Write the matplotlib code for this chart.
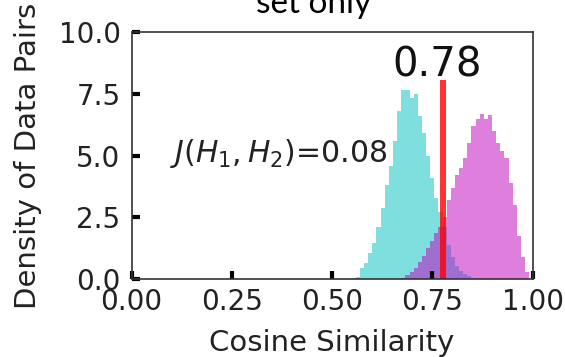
import numpy as np
import matplotlib
matplotlib.use('Agg')
import matplotlib.pyplot as plt

# histogram bins (shared by both series)
bin_start = 0.549
bin_width = 0.0103
n_bins = 43

# density per bin
cyan_heights = [0.05, 0.1, 0.45, 0.66, 1.05, 1.45, 2.1, 2.9, 3.8, 4.6,
                5.6, 6.8, 7.65, 7.65, 7.35, 7.5, 6.6, 5.9, 5.0, 4.1,
                3.3, 2.7, 2.1, 1.4, 0.9, 0.55, 0.35, 0.22, 0.12, 0.05,
                0, 0, 0, 0, 0, 0, 0, 0, 0, 0, 0, 0, 0]
magenta_heights = [0, 0, 0, 0, 0, 0, 0, 0, 0, 0,
                   0, 0, 0.05, 0.15, 0.3, 0.45, 0.7, 0.95, 1.25, 1.55,
                   1.85, 2.1, 2.5, 3.2, 3.7, 4.2, 4.5, 4.9, 5.5, 6.2,
                   6.5, 6.7, 6.5, 6.65, 6.0, 5.5, 5.2, 4.9, 3.9, 3.0,
                   1.75, 0.9, 0.3]

threshold = 0.776
jaccard = 0.08
xticks = [0.0, 0.25, 0.5, 0.75, 1.0]
yticks = [0.0, 2.5, 5.0, 7.5, 10.0]

edges = bin_start + bin_width * np.arange(n_bins + 1)

fig = plt.figure(figsize=(5.65, 3.57), dpi=100)
ax = fig.add_axes([0.233, 0.218, 0.7095, 0.692])

ax.hist(edges[:-1], bins=edges, weights=cyan_heights, color='c', alpha=0.5)
ax.hist(edges[:-1], bins=edges, weights=magenta_heights, color='m', alpha=0.5)
ax.vlines(threshold, 0, 8.05, color='r', alpha=0.8, linewidth=4.3)
ax.text(threshold - 0.014, 8.2, '%.2f' % threshold, ha='center', va='baseline',
        fontsize=29, color='#111111')
ax.text(0.096, 5.1, '$J(H_1, H_2)$=%.2f' % jaccard, ha='left', va='center',
        fontsize=21.5, color='#222222')

ax.set_xlim(0, 1)
ax.set_ylim(0, 10)
ax.set_xticks(xticks)
ax.set_yticks(yticks)
ax.set_xticklabels(['%.2f' % t for t in xticks])
ax.set_yticklabels(['%.1f' % t for t in yticks])
ax.tick_params(direction='in', length=6, width=3, labelsize=20,
               labelcolor='#222222')
ax.tick_params(axis='x', pad=6)
ax.tick_params(axis='y', pad=8)
for s in ax.spines.values():
    s.set_linewidth(1.2)
    s.set_color('#333333')

ax.set_xlabel('Cosine Similarity', fontsize=21, color='#222222', labelpad=10)
ax.set_ylabel('Density of Data Pairs', fontsize=21, color='#222222', labelpad=12)

fig.text(0.555, 0.99, 'set only', ha='center', va='center', fontsize=24,
         family='Lato')

fig.savefig('out.png', dpi=100)
